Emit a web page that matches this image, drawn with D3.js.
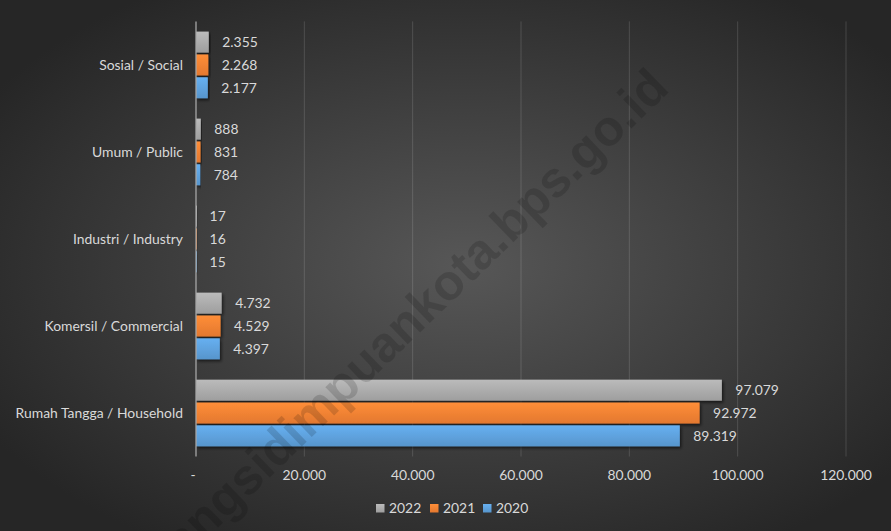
<!DOCTYPE html>
<html><head><meta charset="utf-8">
<script src="https://cdn.jsdelivr.net/npm/d3@7"></script>
<style>html,body{margin:0;padding:0;background:#262626;}svg{display:block;}</style>
</head><body>
<svg id="chart" width="891" height="531"></svg>
<script>
const categories = ["Sosial / Social","Umum / Public","Industri / Industry","Komersil / Commercial","Rumah Tangga / Household"];
const years = ["2022","2021","2020"];
const values2022 = [2355, 888, 17, 4732, 97079];
const values2021 = [2268, 831, 16, 4529, 92972];
const values2020 = [2177, 784, 15, 4397, 89319];
const xTicks = [0, 20000, 40000, 60000, 80000, 100000, 120000];
const seriesColors = ["#a5a5a5", "#ed7d31", "#5b9bd5"];
const watermark = "padangsidimpuankota.bps.go.id";

(function(){
const series = [values2022, values2021, values2020];
const W = 891, H = 531;
const svg = d3.select("#chart");
const font = "Lato, 'Open Sans', sans-serif";
const fs = 13.9;
const loc = d3.formatLocale({decimal: ",", thousands: ".", grouping: [3], currency: ["", ""]});
const fmt = loc.format(",d");

const defs = svg.append("defs");
const bg = defs.append("radialGradient").attr("id","bg").attr("cx","52%").attr("cy","50%").attr("r","62%");
bg.append("stop").attr("offset","0%").attr("stop-color","#575757");
bg.append("stop").attr("offset","100%").attr("stop-color","#262626");
seriesColors.forEach((c,i)=>{
  const g = defs.append("linearGradient").attr("id","bar"+i).attr("x1",0).attr("y1",0).attr("x2",0).attr("y2",1);
  g.append("stop").attr("offset","0%").attr("stop-color", d3.color(c).brighter(0.35));
  g.append("stop").attr("offset","100%").attr("stop-color", d3.color(c).darker(0.12));
});
const f = defs.append("filter").attr("id","shadow").attr("x","-5%").attr("y","-30%").attr("width","120%").attr("height","180%");
f.append("feDropShadow").attr("dx",1.5).attr("dy",2).attr("stdDeviation",1.5).attr("flood-color","#000").attr("flood-opacity",0.6);

svg.append("rect").attr("width",W).attr("height",H).attr("fill","url(#bg)");

const pLeft = 196, pRight = 846, pTop = 21.4, pBottom = 456.5;
const x = d3.scaleLinear().domain([0,120000]).range([pLeft,pRight]);
const y = d3.scaleBand().domain(categories).range([pTop,pBottom]).paddingInner(0.234).paddingOuter(0.117);
const ys = d3.scaleBand().domain(years).range([0,y.bandwidth()]).paddingInner(0.08).paddingOuter(0.0);

// gridlines
svg.append("g").selectAll("line").data(xTicks.slice(1)).join("line")
  .attr("x1",d=>x(d)).attr("x2",d=>x(d)).attr("y1",pTop).attr("y2",pBottom)
  .attr("stroke","#ffffff").attr("stroke-opacity",0.14).attr("stroke-width",1);

// bars
const groups = svg.append("g").selectAll("g").data(categories).join("g")
  .attr("transform",d=>`translate(0,${y(d)})`);
years.forEach((yr,si)=>{
  groups.append("rect")
    .attr("x",x(0)).attr("y",ys(yr))
    .attr("width",(d,i)=>Math.max(1, x(series[si][i])-x(0)))
    .attr("height",ys.bandwidth())
    .attr("fill",`url(#bar${si})`).attr("filter","url(#shadow)");
  groups.append("text")
    .attr("x",(d,i)=>x(series[si][i])+13.5)
    .attr("y",ys(yr)+ys.bandwidth()/2)
    .attr("dy","0.36em")
    .attr("font-family",font).attr("font-size",fs).attr("fill","#d9d9d9")
    .text((d,i)=>fmt(series[si][i]));
});

// axis line
svg.append("line").attr("x1",pLeft).attr("x2",pLeft).attr("y1",pTop).attr("y2",pBottom)
  .attr("stroke","#a6a6a6").attr("stroke-width",1.3);

// category labels
svg.append("g").selectAll("text").data(categories).join("text")
  .attr("x",183).attr("y",d=>y(d)+y.bandwidth()/2).attr("dy","0.36em")
  .attr("text-anchor","end").attr("font-family",font).attr("font-size",fs).attr("fill","#d9d9d9")
  .text(d=>d);

// x tick labels
svg.append("g").selectAll("text").data(xTicks).join("text")
  .attr("x",d=>d===0 ? x(d)-3 : x(d)).attr("y",480)
  .attr("text-anchor","middle").attr("font-family",font).attr("font-size",fs).attr("fill","#d9d9d9")
  .text(d=>d===0 ? "-" : fmt(d));

// legend
const legX = [376, 430, 483];
const leg = svg.append("g").selectAll("g").data(years).join("g")
  .attr("transform",(d,i)=>`translate(${legX[i]},0)`);
leg.append("rect").attr("x",0).attr("y",504).attr("width",8.5).attr("height",8.5)
  .attr("fill",(d,i)=>`url(#bar${i})`);
leg.append("text").attr("x",13).attr("y",513).attr("font-family",font).attr("font-size",fs).attr("fill","#d9d9d9").text(d=>d);

// watermark (drawn over the chart)
svg.append("text").text(watermark)
  .attr("transform","translate(386,347) rotate(-44)")
  .attr("text-anchor","middle").attr("dominant-baseline","middle")
  .attr("font-family","'Liberation Sans', Arial, sans-serif").attr("font-weight","bold")
  .attr("font-size",50).attr("fill","#000").attr("fill-opacity",0.15);
})();
</script>
</body></html>
